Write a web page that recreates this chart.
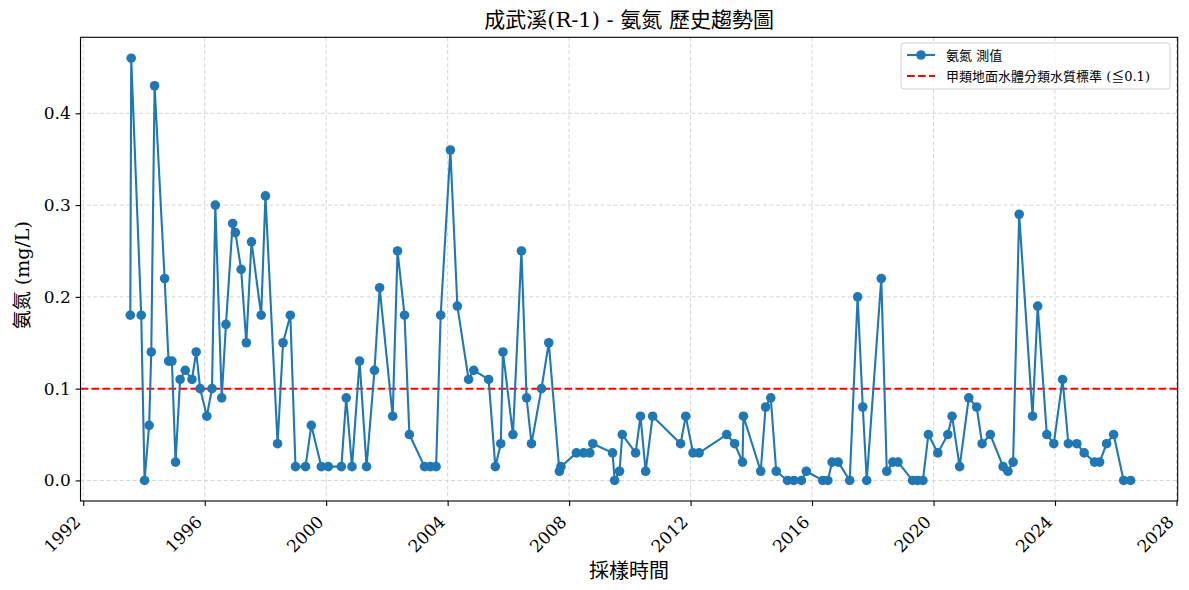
<!DOCTYPE html>
<html>
<head>
<meta charset="utf-8">
<script src="https://cdn.jsdelivr.net/npm/d3@7"></script>
<style>
  body { margin: 0; background: #fff; }
  text { font-family: "DejaVu Serif", "Noto Sans CJK TC", serif; fill: #000; }
</style>
</head>
<body>
<div id="chart"></div>
<script>
// sampling dates (decimal year) and measured ammonia-N (mg/L)
const years = [
  1993.55, 1993.58, 1993.91, 1994.02, 1994.17, 1994.24, 1994.35, 1994.68, 1994.81, 1994.92,
  1995.04, 1995.19, 1995.36, 1995.58, 1995.72, 1995.85, 1996.07, 1996.24, 1996.35, 1996.56,
  1996.70, 1996.92, 1997.01, 1997.20, 1997.37, 1997.54, 1997.86, 1998.00, 1998.40, 1998.58,
  1998.82, 1998.99, 1999.32, 1999.51, 1999.84, 2000.07, 2000.50, 2000.66, 2000.85, 2001.10,
  2001.33, 2001.59, 2001.76, 2002.19, 2002.35, 2002.58, 2002.74, 2003.24, 2003.43, 2003.62,
  2003.77, 2004.09, 2004.32, 2004.69, 2004.86, 2005.35, 2005.57, 2005.75, 2005.82, 2006.15,
  2006.43, 2006.60, 2006.76, 2007.09, 2007.33, 2007.68, 2007.73, 2008.24, 2008.48, 2008.68,
  2008.78, 2009.43, 2009.50, 2009.66, 2009.75, 2010.19, 2010.35, 2010.52, 2010.75, 2011.67,
  2011.84, 2012.08, 2012.28, 2013.19, 2013.45, 2013.71, 2013.74, 2014.31, 2014.47, 2014.64,
  2014.82, 2015.19, 2015.40, 2015.65, 2015.81, 2016.35, 2016.52, 2016.66, 2016.86, 2017.24,
  2017.50, 2017.67, 2017.80, 2018.28, 2018.46, 2018.66, 2018.83, 2019.31, 2019.48, 2019.65,
  2019.83, 2020.14, 2020.47, 2020.61, 2020.86, 2021.16, 2021.42, 2021.60, 2021.87, 2022.29,
  2022.45, 2022.62, 2022.82, 2023.26, 2023.43, 2023.73, 2023.96, 2024.25, 2024.44, 2024.72,
  2024.96, 2025.30, 2025.47, 2025.70, 2025.93, 2026.26, 2026.49
];
const values = [
  0.18, 0.46, 0.18, 0.00, 0.06, 0.14, 0.43, 0.22, 0.13, 0.13,
  0.02, 0.11, 0.12, 0.11, 0.14, 0.10, 0.07, 0.10, 0.30, 0.09,
  0.17, 0.28, 0.27, 0.23, 0.15, 0.26, 0.18, 0.31, 0.04, 0.15,
  0.18, 0.015, 0.015, 0.06, 0.015, 0.015, 0.015, 0.09, 0.015, 0.13,
  0.015, 0.12, 0.21, 0.07, 0.25, 0.18, 0.05, 0.015, 0.015, 0.015,
  0.18, 0.36, 0.19, 0.11, 0.12, 0.11, 0.015, 0.04, 0.14, 0.05,
  0.25, 0.09, 0.04, 0.10, 0.15, 0.01, 0.015, 0.03, 0.03, 0.03,
  0.04, 0.03, 0.00, 0.01, 0.05, 0.03, 0.07, 0.01, 0.07, 0.04,
  0.07, 0.03, 0.03, 0.05, 0.04, 0.02, 0.07, 0.01, 0.08, 0.09,
  0.01, 0.00, 0.00, 0.00, 0.01, 0.00, 0.00, 0.02, 0.02, 0.00,
  0.20, 0.08, 0.00, 0.22, 0.01, 0.02, 0.02, 0.00, 0.00, 0.00,
  0.05, 0.03, 0.05, 0.07, 0.015, 0.09, 0.08, 0.04, 0.05, 0.015,
  0.01, 0.02, 0.29, 0.07, 0.19, 0.05, 0.04, 0.11, 0.04, 0.04,
  0.03, 0.02, 0.02, 0.04, 0.05, 0.00, 0.00
];
const standardValue = 0.1;

const xTicks = [1992, 1996, 2000, 2004, 2008, 2012, 2016, 2020, 2024, 2028];
const yTicks = [0.0, 0.1, 0.2, 0.3, 0.4];

const titleText = '成武溪(R-1) - 氨氮 歷史趨勢圖';
const xLabelText = '採樣時間';
const yLabelText = '氨氮 (mg/L)';
const seriesName = '氨氮 測值';
const standardName = '甲類地面水體分類水質標準 (≦0.1)';

const { scaleLinear, line, select, axisBottom, axisLeft, format } = d3;

const render = () => {
  const width = 1189, height = 590;
  const margin = { top: 37.3, right: 11.3, bottom: 89, left: 80.5 };
  const innerWidth = width - margin.left - margin.right;
  const innerHeight = height - margin.top - margin.bottom;

  const data = years.map((y, i) => ({ year: y, value: values[i] }));

  const svg = select('#chart').append('svg')
    .attr('width', width)
    .attr('height', height);

  const xScale = scaleLinear().domain([1991.91, 2028.04]).range([0, innerWidth]);
  const yScale = scaleLinear().domain([-0.0224, 0.4828]).range([innerHeight, 0]);

  const g = svg.append('g')
    .attr('transform', `translate(${margin.left},${margin.top})`);

  // grid, dashed light grey
  g.append('g').selectAll('line').data(xTicks).enter().append('line')
    .attr('x1', d => xScale(d)).attr('x2', d => xScale(d))
    .attr('y1', 0).attr('y2', innerHeight)
    .attr('stroke', '#d4d4d4').attr('stroke-width', 1).attr('stroke-dasharray', '4,2.5');
  g.append('g').selectAll('line').data(yTicks).enter().append('line')
    .attr('y1', d => yScale(d)).attr('y2', d => yScale(d))
    .attr('x1', 0).attr('x2', innerWidth)
    .attr('stroke', '#d4d4d4').attr('stroke-width', 1).attr('stroke-dasharray', '4,2.5');

  // standard line at 0.1
  g.append('line')
    .attr('x1', 0).attr('x2', innerWidth)
    .attr('y1', yScale(standardValue)).attr('y2', yScale(standardValue))
    .attr('stroke', 'red').attr('stroke-width', 2).attr('stroke-dasharray', '7.7,3.3');

  // series line + markers
  const lineGen = line().x(d => xScale(d.year)).y(d => yScale(d.value));
  g.append('path').datum(data)
    .attr('d', lineGen)
    .attr('fill', 'none')
    .attr('stroke', '#1f77b4')
    .attr('stroke-width', 2.1)
    .attr('stroke-linejoin', 'round');

  g.selectAll('circle.pt').data(data).enter().append('circle')
    .attr('class', 'pt')
    .attr('cx', d => xScale(d.year))
    .attr('cy', d => yScale(d.value))
    .attr('r', 4.8)
    .attr('fill', '#1f77b4');

  // axes
  const xAxisG = g.append('g')
    .attr('transform', `translate(0,${innerHeight})`)
    .call(axisBottom(xScale).tickValues(xTicks).tickSize(4.9).tickFormat(format('d')));
  xAxisG.select('.domain').remove();
  xAxisG.selectAll('.tick line').attr('stroke', '#000').attr('stroke-width', 1.1);
  xAxisG.selectAll('.tick text')
    .attr('font-size', 17)
    .attr('text-anchor', 'end')
    .attr('dy', null)
    .attr('y', null)
    .attr('transform', 'translate(-2,22) rotate(-45)');

  const yAxisG = g.append('g')
    .call(axisLeft(yScale).tickValues(yTicks).tickSize(4.9).tickPadding(4.9).tickFormat(format('.1f')));
  yAxisG.select('.domain').remove();
  yAxisG.selectAll('.tick line').attr('stroke', '#000').attr('stroke-width', 1.1);
  yAxisG.selectAll('.tick text').attr('font-size', 17);

  // frame
  g.append('rect')
    .attr('width', innerWidth).attr('height', innerHeight)
    .attr('fill', 'none').attr('stroke', '#000').attr('stroke-width', 1.1);

  // titles
  svg.append('text')
    .attr('x', margin.left + innerWidth / 2).attr('y', 27)
    .attr('text-anchor', 'middle').attr('font-size', 21)
    .text(titleText);

  svg.append('text')
    .attr('x', margin.left + innerWidth / 2).attr('y', 578)
    .attr('text-anchor', 'middle').attr('font-size', 20)
    .text(xLabelText);

  svg.append('text')
    .attr('transform', `translate(29,${margin.top + innerHeight / 2 + 6}) rotate(-90)`)
    .attr('text-anchor', 'middle').attr('font-size', 19)
    .text(yLabelText);

  // legend
  const lg = svg.append('g').attr('transform', 'translate(901,43)');
  lg.append('rect')
    .attr('width', 269).attr('height', 46).attr('rx', 3)
    .attr('fill', '#fff').attr('fill-opacity', 0.8)
    .attr('stroke', '#d0d0d0');
  lg.append('line')
    .attr('x1', 6).attr('x2', 34).attr('y1', 12).attr('y2', 12)
    .attr('stroke', '#1f77b4').attr('stroke-width', 2.1);
  lg.append('circle').attr('cx', 20).attr('cy', 12).attr('r', 4.8).attr('fill', '#1f77b4');
  lg.append('line')
    .attr('x1', 6).attr('x2', 34).attr('y1', 33).attr('y2', 33)
    .attr('stroke', 'red').attr('stroke-width', 2).attr('stroke-dasharray', '7.7,3.3');
  lg.append('text').attr('x', 45).attr('y', 17).attr('font-size', 13).text(seriesName);
  lg.append('text').attr('x', 45).attr('y', 38).attr('font-size', 13).text(standardName);
};

render();
</script>
</body>
</html>
